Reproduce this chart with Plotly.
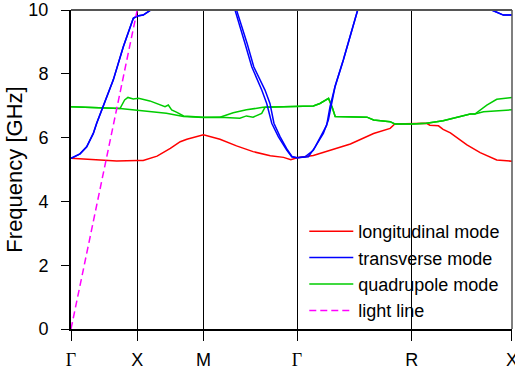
import plotly.graph_objects as go

# High-symmetry points (path coordinate) and labels
tick_k = [0, 1, 2, 3.414, 5.146, 6.66]
tick_labels = ["Γ", "X", "M", "Γ", "R", "X"]

# Longitudinal mode
long_k = [0, 0.44, 0.69, 1.0, 1.09, 1.30, 1.50, 1.65, 1.75, 2.0, 2.25, 2.50, 2.75, 3.01, 3.21, 3.32,
          3.414, 3.66, 3.91, 4.22, 4.57, 4.82, 4.89, 5.146, 5.37, 5.42, 5.55, 5.62, 5.73, 5.98, 6.18, 6.43, 6.66]
long_f = [5.35, 5.30, 5.27, 5.28, 5.28, 5.42, 5.66, 5.87, 5.95, 6.09, 5.95, 5.74, 5.56, 5.43, 5.38, 5.31,
          5.37, 5.44, 5.59, 5.80, 6.13, 6.29, 6.43, 6.45, 6.45, 6.39, 6.37, 6.26, 6.15, 5.77, 5.53, 5.30, 5.26]

# Transverse mode (two bands)
trans1_k = [0, 0.136, 0.237, 0.337, 0.388, 0.438, 0.488, 0.639, 0.790, 0.891, 0.941, 1.0, 1.09, 1.19, 1.4, 2.0,
            2.477, 2.628, 2.730, 2.881, 2.956, 3.032, 3.131, 3.258, 3.334, 3.414,
            3.535, 3.660, 3.761, 3.862, 3.912, 3.988, 4.113, 4.330, 5.146, 6.2, 6.355, 6.455, 6.530, 6.66]
trans1_f = [5.35, 5.49, 5.71, 6.13, 6.45, 6.71, 6.97, 7.81, 8.85, 9.48, 9.74, 9.81, 9.84, 9.98, 10.5, 12.5,
            10.0, 8.95, 8.22, 7.49, 7.07, 6.45, 6.03, 5.61, 5.40, 5.37,
            5.40, 5.60, 5.98, 6.39, 6.97, 7.60, 8.43, 10.0, 14.0, 10.3, 10.0, 9.90, 9.84, 9.84]
trans2_k = [0, 0.136, 0.237, 0.337, 0.388, 0.438, 0.488, 0.639, 0.790, 0.891, 0.941, 1.0, 1.09, 1.19, 1.4, 2.0,
            2.50, 2.66, 2.76, 2.93, 3.005, 3.065, 3.157, 3.270, 3.340, 3.414,
            3.585, 3.686, 3.811, 3.887, 3.962, 3.988, 4.113, 4.330, 5.146, 6.2, 6.355, 6.455, 6.530, 6.66]
trans2_f = [5.35, 5.49, 5.71, 6.13, 6.45, 6.71, 6.97, 7.81, 8.85, 9.48, 9.74, 9.81, 9.84, 9.98, 10.5, 12.5,
            10.0, 8.95, 8.22, 7.49, 7.07, 6.45, 6.03, 5.61, 5.40, 5.37,
            5.40, 5.70, 6.13, 6.55, 7.39, 7.60, 8.43, 10.0, 14.0, 10.3, 10.0, 9.90, 9.84, 9.84]

# Quadrupole mode (two bands)
quad1_k = [0, 0.5, 0.74, 0.81, 0.86, 0.94, 1.02, 1.19, 1.34, 1.42, 1.47, 1.52, 1.60, 1.70, 2.0,
           2.25, 2.45, 2.65, 2.90, 3.21, 3.414, 3.66, 3.76, 3.89, 3.95, 3.99, 4.47, 4.57, 4.82, 4.89, 5.146,
           5.37, 5.62, 5.83, 6.03, 6.10, 6.28, 6.43, 6.66]
quad1_f = [6.97, 6.94, 6.91, 7.18, 7.26, 7.21, 7.23, 7.15, 7.04, 6.97, 7.02, 6.87, 6.79, 6.68, 6.64,
           6.64, 6.78, 6.87, 6.95, 6.97, 6.97, 6.99, 7.07, 7.23, 6.92, 6.66, 6.64, 6.55, 6.50, 6.43, 6.43,
           6.45, 6.53, 6.64, 6.74, 6.74, 7.02, 7.20, 7.26]
quad2_k = [0, 0.5, 0.74, 1.0, 1.44, 1.70, 2.0,
           2.25, 2.55, 2.65, 2.75, 2.88, 2.93, 3.21, 3.414, 3.66, 3.76, 3.89, 3.95, 3.99, 4.47, 4.57, 4.82, 4.89, 5.146,
           5.37, 5.62, 5.83, 6.03, 6.10, 6.23, 6.66]
quad2_f = [6.97, 6.94, 6.91, 6.86, 6.76, 6.66, 6.63,
           6.64, 6.61, 6.68, 6.64, 6.76, 6.95, 6.97, 6.97, 6.99, 7.07, 7.23, 6.92, 6.66, 6.64, 6.55, 6.50, 6.43, 6.43,
           6.45, 6.53, 6.64, 6.74, 6.74, 6.81, 6.87]

# Light line
light_k = [0, 1.0]
light_f = [0, 10.0]

RED = "rgb(255,0,0)"
BLUE = "rgb(0,0,255)"
GREEN = "rgb(0,204,0)"
MAGENTA = "rgb(255,0,255)"
LW = 1.5

fig = go.Figure()
fig.add_trace(go.Scatter(x=long_k, y=long_f, mode="lines", line=dict(color=RED, width=LW),
                         name="longitudinal mode", legendrank=1))
fig.add_trace(go.Scatter(x=quad1_k, y=quad1_f, mode="lines", line=dict(color=GREEN, width=LW),
                         name="quadrupole mode", legendrank=3))
fig.add_trace(go.Scatter(x=quad2_k, y=quad2_f, mode="lines", line=dict(color=GREEN, width=LW),
                         name="quadrupole mode", showlegend=False))
fig.add_trace(go.Scatter(x=trans1_k, y=trans1_f, mode="lines", line=dict(color=BLUE, width=LW),
                         name="transverse mode", legendrank=2))
fig.add_trace(go.Scatter(x=trans2_k, y=trans2_f, mode="lines", line=dict(color=BLUE, width=LW),
                         name="transverse mode", showlegend=False))
fig.add_trace(go.Scatter(x=light_k, y=light_f, mode="lines",
                         line=dict(color=MAGENTA, width=LW, dash="7px,4px"),
                         name="light line", legendrank=4))

serif_labels = [f'<span style="font-family:Liberation Serif, Times New Roman, serif">{t}</span>' if t == "Γ" else t
                for t in tick_labels]

fig.update_layout(
    width=515, height=374,
    margin=dict(l=71, r=3, t=10, b=45),
    paper_bgcolor="white", plot_bgcolor="white",
    font=dict(family="Liberation Sans, Arial, sans-serif", size=18, color="black"),
    showlegend=True,
    legend=dict(x=0.529, xanchor="left", y=0.0, yanchor="bottom",
                bgcolor="rgba(0,0,0,0)", borderwidth=0, font=dict(size=18),
                itemwidth=44),
    xaxis=dict(range=[0, 6.6605], tickvals=tick_k, ticktext=serif_labels,
               ticks="outside", ticklen=10, tickwidth=1, tickcolor="black",
               showgrid=True, gridcolor="black", gridwidth=1, zeroline=False,
               showline=True, linecolor="black", linewidth=1.5, mirror=False,
               ticklabelstandoff=4, ticklabeloverflow="allow", automargin=False),
    yaxis=dict(range=[0, 10], tickvals=[0, 2, 4, 6, 8, 10], ticks="outside", ticklen=8, tickwidth=1,
               tickcolor="black", showgrid=False, zeroline=False,
               showline=True, linecolor="black", linewidth=2, mirror=False,
               title=dict(text="Frequency [GHz]", standoff=0), ticklabelstandoff=9,
               automargin=False),
    shapes=[
        dict(type="line", xref="paper", yref="paper", x0=0, x1=1, y0=1, y1=1,
             line=dict(color="#555555", width=2)),
        dict(type="line", xref="paper", yref="paper", x0=1, x1=1, y0=0, y1=1,
             line=dict(color="#555555", width=1.5)),
    ],
)

fig.write_html("out.html", config={"displayModeBar": False},
               post_script="document.body.style.margin='0';")
